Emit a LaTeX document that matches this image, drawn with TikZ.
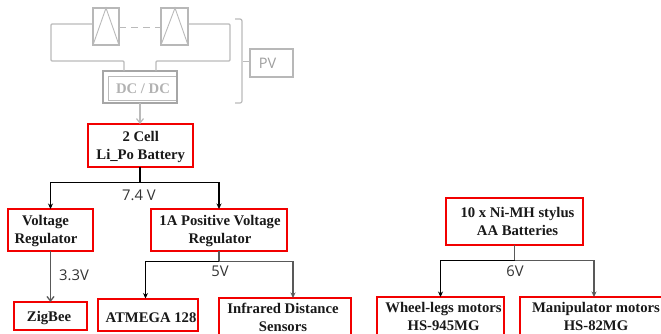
\documentclass[tikz,border=0pt]{standalone}
\usepackage{fontspec}
\setmainfont{Liberation Serif}
\newfontfamily\lblfont{Open Sans}
\usetikzlibrary{arrows.meta}
\newcommand\tophold[1]{\rule{0pt}{#1pt}}
\newcommand\bothold[1]{\rule[-#1pt]{0pt}{#1pt}}
\tikzset{
 x=1pt,y=-1pt,
 redbox/.style={draw=red!95!black,line width=2pt,fill=white,inner sep=0pt,outer sep=0pt,anchor=north west,align=center,font=\fontsize{14.7}{18}\selectfont\bfseries,text=black!90},
 graybox/.style={draw=black!28,line width=1.2pt,inner sep=0pt,outer sep=0pt,anchor=north west},
 grayline/.style={draw=black!27,line width=1.2pt},
 feed/.style={draw=black,line width=1.3pt},
 feeddark/.style={draw=black!65,line width=1.3pt},
 tip/.style={-{Stealth[length=5.5pt,width=5pt]}},
 barb/.style={-{Straight Barb[length=4.5pt,width=7pt]}},
 vlabel/.style={font=\lblfont\fontsize{14.8}{16}\selectfont,text=black!80,inner sep=0pt},
}
\begin{document}
\begin{tikzpicture}
\useasboundingbox (0,0) rectangle (661,333);
\clip (0,0) rectangle (661,333);
% PV string
\node[graybox,minimum width=26pt,minimum height=37pt] (p1) at (93,8) {};
\node[graybox,minimum width=27pt,minimum height=37pt] (p2) at (161,8) {};
\draw[grayline,line width=.9pt] (p1.south west) -- (106,8) -- (p1.south east);
\draw[grayline,line width=.9pt] (p2.south west) -- (175,8) -- (p2.south east);
\node[graybox,draw=black!35,line width=1.8pt,minimum width=74pt,minimum height=32pt] (dc) at (103,71) {};
\draw[grayline,line width=.8pt] (176,76.5) -- (108.5,76.5) -- (108.5,100) -- (176,100);
\node[font=\fontsize{14.7}{16}\selectfont\bfseries,text=black!30,inner sep=0pt] (dct) at (143,89) {DC / DC};
\coordinate (dl) at (124,71);
\coordinate (dr) at (156,71);
\draw[grayline,rounded corners=1pt] (p1.west |- 0,24) -- (51,24) -- (51,61) -- (124,61) -- (dl);
\draw[grayline,rounded corners=1pt] (p2.east |- 0,24) -- (230,24) -- (230,61) -- (156,61) -- (dr);
\draw[grayline,dash pattern=on 7pt off 5pt,line width=.9pt] (p1.east |- 0,27) -- (p2.west |- 0,27);
\coordinate (b1) at (235,19);
\coordinate (b2) at (235,103);
\coordinate (bm) at (243,61);
\draw[grayline,rounded corners=2pt] (b1) -- (242,19) -- (242,103) -- (b2);
\node[graybox,minimum width=43pt,minimum height=28pt,font=\lblfont\fontsize{14.5}{16}\selectfont,text=black!38] (pv) at (250,49) {\hspace*{-8pt}PV};
\draw[grayline,line width=.9pt] (bm) -- (pv.west |- bm);
% boxes
\node[redbox,minimum width=105pt,minimum height=43pt] (bat) at (87.5,124) {\tophold{13}\hspace*{1.5pt}2 Cell\\\hspace*{1.5pt}Li\_Po Battery};
\node[redbox,minimum width=85pt,minimum height=42pt] (vr) at (8,209) {\tophold{13}Voltage\hspace*{10pt}\\Regulator\hspace*{9pt}};
\node[redbox,minimum width=136pt,minimum height=42pt] (pr) at (151,209) {\tophold{13}\hspace*{2pt}1A Positive Voltage\\\hspace*{2pt}Regulator};
\node[redbox,minimum width=73pt,minimum height=28pt] (zb) at (14,302) {\tophold{14}ZigBee\hspace*{3pt}};
\node[redbox,minimum width=100pt,minimum height=32pt] (at) at (98,298.5) {\tophold{16}\hspace*{6pt}ATMEGA 128};
\node[redbox,minimum width=132pt,minimum height=42pt] (ir) at (219,298) {Infrared Distance\hspace*{4pt}\\Sensors\hspace*{4pt}\bothold{4.2}};
\node[redbox,minimum width=137pt,minimum height=47pt] (ni) at (446,198) {\hspace*{6pt}10 x Ni-MH stylus\\\hspace*{6pt}AA Batteries};
\node[redbox,minimum width=127pt,minimum height=42pt] (wl) at (377,297) {\hspace*{6pt}Wheel-legs motors\\\hspace*{6pt}HS-945MG\bothold{4.2}};
\node[redbox,minimum width=152pt,minimum height=42pt] (mm) at (520,297) {Manipulator motors\\HS-82MG\bothold{4.2}};
% grey feed
\draw[grayline,barb] (dc.south -| 140,0) -- (bat.north -| 140,0);
% bus 7.4 V
\coordinate (s1) at (140,182.5);
\draw[feed] (bat.south -| s1) -- (s1);
\draw[feed,tip] (s1) -- (50.5,182.5) -- (vr.north);
\draw[feed,tip] (s1) -- (219,182.5) -- (pr.north);
\node[vlabel] (v74) at (139,195.5) {7.4 V};
% 3.3 V
\draw[feeddark,barb] (vr.south) -- (zb.north);
\node[vlabel] (v33) at (74,275) {3.3V};
% bus 5 V
\coordinate (s2) at (219,261.5);
\draw[feeddark] (pr.south) -- (s2);
\draw[feed,tip] (s2) -- (145.5,261.5) -- (at.north -| 145.5,0);
\draw[feeddark,tip] (s2) -- (293,261.5) -- (ir.north -| 293,0);
\node[vlabel] (v5) at (220,271.5) {5V};
% bus 6 V
\coordinate (s3) at (514.5,260.5);
\draw[feeddark] (ni.south) -- (s3);
\draw[feed,tip] (s3) -- (440.5,260.5) -- (wl.north);
\draw[feeddark,tip] (s3) -- (594,260.5) -- (mm.north -| 594,0);
\node[vlabel] (v6) at (515,271.5) {6V};
\end{tikzpicture}
\end{document}
